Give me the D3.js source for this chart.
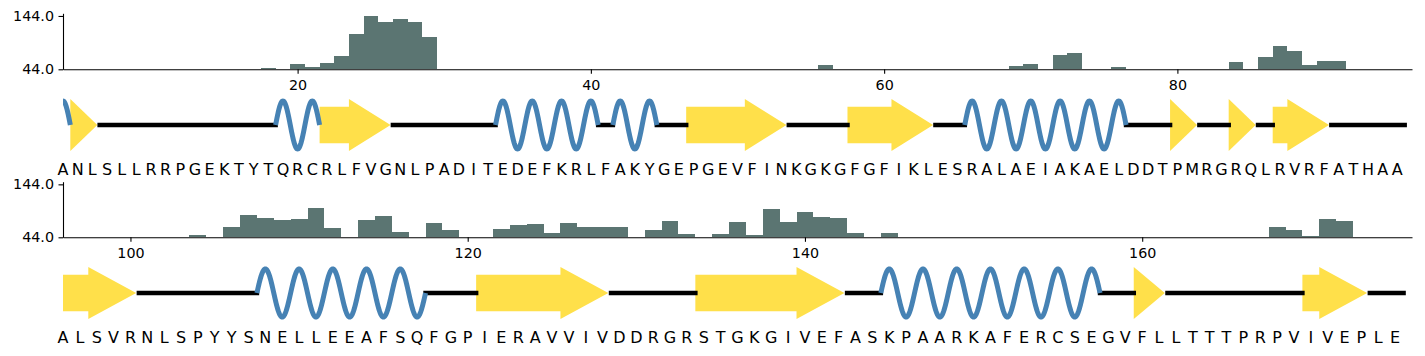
<!DOCTYPE html>
<html><head><meta charset="utf-8">
<script src="https://cdn.jsdelivr.net/npm/d3@7"></script>
<style>
body{margin:0;background:#fff}
svg{display:block}
text{font-family:"DejaVu Sans",sans-serif}
</style>
</head><body>
<svg id="c" width="1425" height="356"></svg>
<script>
// ---------- data: row 1 ----------
const seq1 = "ANLSLLRRPGEKTYTQRCRLFVGNLPADITEDEFKRLFAKYGEPGEVFINKGKGFGFIKLESRALAEIAKAELDDTPMRGRQLRVRFATHAA";
const start1 = 4;
const ss1 = [["H",4,4],["E",5,6],["C",7,18],["H",19,21],["E",22,26],["C",27,33],["H",34,40],["C",41,41],
  ["H",42,44],["C",45,46],["E",47,53],["C",54,57],["E",58,63],["C",64,65],["H",66,76],["C",77,79],
  ["E",80,81],["C",82,83],["E",84,85],["C",86,86],["E",87,90],["C",91,95]];
const barRes1 = [18,20,21,22,23,24,25,26,27,28,29,56,69,70,72,73,76,84,86,87,88,89,90,91];
const barVal1 = [46.5,54,48.4,56.5,69,110.9,144,132.8,138.4,132.8,104.6,51.5,49.6,54,70.9,74.6,48.4,57.8,67.1,87.8,78.4,52.1,59.6,59.6];
const xTicks1 = [20,40,60,80];

// ---------- data: row 2 ----------
const seq2 = "ALSVRNLSPYYSNELLEEAFSQFGPIERAVVIVDDRGRSTGKGIVEFASKPAARKAFERCSEGVFLLTTTPRPVIVEPLE";
const start2 = 96;
const ss2 = [["E",96,100],["C",101,107],["H",108,117],["C",118,120],["E",121,128],["C",129,133],
  ["E",134,142],["C",143,144],["H",145,157],["C",158,159],["E",160,161],["C",162,169],["E",170,173],["C",174,175]];
const barRes2 = [104,106,107,108,109,110,111,112,114,115,116,118,119,122,123,124,125,126,127,128,129,
  131,132,133,135,136,137,138,139,140,141,142,143,145,168,169,170,171,172];
const barVal2 = [48.4,63.6,86.4,80.7,76.9,78.8,99.7,61.7,76.9,84.5,54.1,71.2,57.9,59.8,67.4,69.3,52.2,71.2,63.6,63.6,63.6,
  57.9,75,50.3,50.3,73.1,47.8,97.8,73.1,92.1,82.6,80.7,52.2,52.2,63.6,57.9,46.5,78.8,75];
const xTicks2 = [100,120,140,160];

const yTicks = [44,144];
const yDomain = [44,149];

// ---------- drawing ----------
const svg = d3.select("#c");
svg.append("rect").attr("width",1425).attr("height",356).attr("fill","#fff");

const COL_BAR = "#5b7572", COL_HELIX = "#4682b4", COL_STRAND = "#ffe04a", COL_COIL = "#000";

function drawRow(idx, seq, start, ss, barRes, barVal, xTicks, lay) {
  const xs = d3.scaleLinear().domain([start, start + seq.length]).range([63, 1412]);
  const ys = d3.scaleLinear().domain(yDomain).range([lay.base, lay.top]);
  const g = svg.append("g");

  // bars
  g.append("g").selectAll("rect").data(barRes.map((r,i)=>({r, v:barVal[i]}))).join("rect")
    .attr("x", d => xs(d.r - 0.5))
    .attr("width", d => xs(d.r + 0.5) - xs(d.r - 0.5))
    .attr("y", d => ys(d.v))
    .attr("height", d => ys(yDomain[0]) - ys(d.v))
    .attr("fill", COL_BAR)
    .attr("shape-rendering","crispEdges");

  // axes
  const xa = g.append("g").attr("transform", `translate(0,${lay.base})`)
    .call(d3.axisBottom(xs).tickValues(xTicks).tickSize(4.5).tickPadding(6.5).tickSizeOuter(0));
  const ya = g.append("g").attr("transform", `translate(63,0)`)
    .call(d3.axisLeft(ys).tickValues(yTicks).tickFormat(d3.format(".1f")).tickSize(4.5).tickPadding(4.5).tickSizeOuter(0));
  [xa, ya].forEach(a => {
    a.attr("font-family", "DejaVu Sans, sans-serif").attr("font-size", "14.3px");
    a.selectAll("path,line").attr("stroke", "#000").attr("stroke-width", 1.1);
    a.selectAll("text").attr("fill", "#000");
  });

  // secondary structure
  const clipId = "clip" + idx;
  svg.append("clipPath").attr("id", clipId).append("rect")
    .attr("x", 63).attr("y", lay.cy - 40).attr("width", 1425 - 63).attr("height", 80);
  const sg = g.append("g").attr("clip-path", `url(#${clipId})`);
  const cy = lay.cy, bh = 18.3, hh = 26, amp = 24;

  ss.filter(s => s[0] === "E").forEach(([t, s, e]) => {
    const x0 = xs(s - 0.5);
    const hb = xs(Math.max(s - 0.5, e + 0.5 - 3));
    const xt = xs(e + 0.5 - 0.16);
    const pts = [[x0, cy - bh], [hb, cy - bh], [hb, cy - hh], [xt, cy], [hb, cy + hh], [hb, cy + bh], [x0, cy + bh]];
    sg.append("path").attr("d", "M" + pts.map(p => p.join(",")).join("L") + "Z").attr("fill", COL_STRAND);
  });

  ss.filter(s => s[0] === "C").forEach(([t, s, e]) => {
    sg.append("line").attr("x1", xs(s - 0.5)).attr("x2", xs(e + 0.5)).attr("y1", cy).attr("y2", cy)
      .attr("stroke", COL_COIL).attr("stroke-width", 4.5).attr("stroke-linecap", "square");
  });

  const line = d3.line().x(d => xs(d[0])).y(d => d[1]);
  ss.filter(s => s[0] === "H").forEach(([t, s, e]) => {
    const pts = d3.range(s - 0.5, e + 0.5 + 1e-9, 0.02).map(r => [r, cy - amp * Math.cos(Math.PI * (r - s))]);
    sg.append("path").attr("d", line(pts)).attr("fill", "none")
      .attr("stroke", COL_HELIX).attr("stroke-width", 5);
  });

  // sequence letters
  g.append("g").selectAll("text").data(seq.split("")).join("text")
    .attr("x", (d, i) => xs(start + i))
    .attr("y", lay.letterY)
    .attr("text-anchor", "middle")
    .attr("font-size", "16px")
    .attr("fill", "#000")
    .text(d => d);
}

drawRow(1, seq1, start1, ss1, barRes1, barVal1, xTicks1, {top: 13.3, base: 69.3, cy: 125, letterY: 175});
drawRow(2, seq2, start2, ss2, barRes2, barVal2, xTicks2, {top: 181.7, base: 237.3, cy: 293, letterY: 343.3});
</script>
</body></html>
